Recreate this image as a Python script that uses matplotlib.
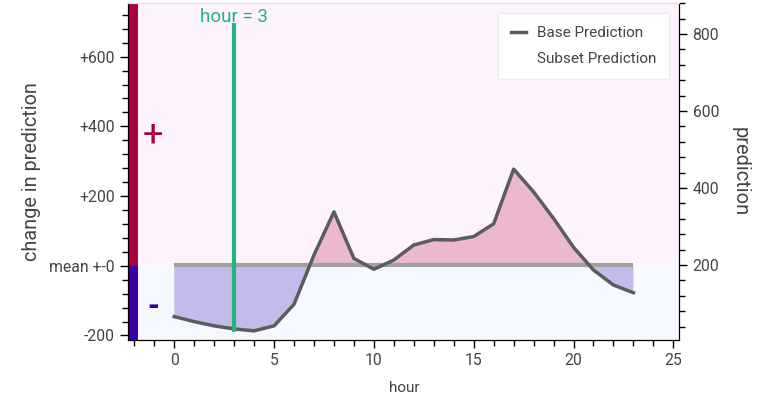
import matplotlib.pyplot as plt
from matplotlib.lines import Line2D
from matplotlib.patches import Rectangle
from matplotlib.ticker import MultipleLocator

plt.rcParams["font.family"] = ["Roboto", "DejaVu Sans"]

hours = list(range(24))
base_prediction = [66, 53, 42, 34, 29, 42, 98, 226, 338, 217, 189, 213,
                   252, 266, 265, 274, 307, 449, 390, 321, 246, 187, 148, 128]
mean_prediction = 200
selected_hour = 3

change_ticks = [-200, 0, 200, 400, 600]
change_labels = ["-200", "mean +-0", "+200", "+400", "+600"]
pred_ticks = [200, 400, 600, 800]

pos_bg = "#fdf3fc"
neg_bg = "#f5f8ff"
pos_fill = "#ebb8cd"
neg_fill = "#c4bbeb"
pos_bar = "#a8003c"
neg_bar = "#3a00a8"
line_color = "#5c5c5c"
green = "#1fb67f"
text_color = "#444444"

fig = plt.figure(figsize=(7.57, 3.95), dpi=100)
ax = fig.add_axes([0.1695, 0.1392, 0.7279, 0.8532])
ax2 = ax.twinx()

change_lo, change_hi = -213, 754
pred_lo, pred_hi = 5.2, 880.5
x_lo, x_hi = -2.3, 25.3

ax.set_xlim(x_lo, x_hi)
ax.set_ylim(change_lo, change_hi)
ax2.set_ylim(pred_lo, pred_hi)

# background split at the mean
ax.axhspan(0, change_hi, color=pos_bg, zorder=0, lw=0)
ax.axhspan(change_lo, 0, color=neg_bg, zorder=0, lw=0)
ax.add_patch(Rectangle((x_lo, 0), 0.5, change_hi, color=pos_bar, lw=0, zorder=2))
ax.add_patch(Rectangle((x_lo, change_lo), 0.5, -change_lo, color=neg_bar, lw=0, zorder=2))
ax.text(-1.05, 375, "+", color=pos_bar, fontsize=26, ha="center", va="center")
ax.text(-1.05, -118, "-", color=neg_bar, fontsize=22, ha="center", va="center", fontweight="bold")

# prediction curve vs mean
base_line = [mean_prediction] * len(hours)
ax2.fill_between(hours, base_line, base_prediction, where=[v >= mean_prediction for v in base_prediction],
                 interpolate=True, color=pos_fill, lw=0, zorder=1)
ax2.fill_between(hours, base_line, base_prediction, where=[v <= mean_prediction for v in base_prediction],
                 interpolate=True, color=neg_fill, lw=0, zorder=1)
ax2.plot(hours, base_line, color="#a0a0a0", lw=3, zorder=2, solid_capstyle="butt")
ax2.plot(hours, base_prediction, color=line_color, lw=2.5, zorder=3)

ax2.vlines(selected_hour, 26, 828, color=green, lw=3, zorder=4)
ax2.text(selected_hour, 845, f"hour = {selected_hour}", color=green, fontsize=13.5, ha="center", va="center")

handles = [Line2D([], [], color=line_color, lw=2.5), Line2D([], [], color="white", lw=2.5)]
leg = ax2.legend(handles, ["Base Prediction", "Subset Prediction"], loc="upper right",
                 bbox_to_anchor=(0.981, 0.970), borderaxespad=0, fancybox=False, framealpha=1,
                 edgecolor="#ececec", fontsize=11, handlelength=1.0, borderpad=0.85,
                 labelspacing=0.8, handletextpad=0.7)
for t in leg.get_texts():
    t.set_color(text_color)

ax.set_yticks(change_ticks)
ax.set_yticklabels(change_labels)
ax.yaxis.set_minor_locator(MultipleLocator(40))
ax2.set_yticks(pred_ticks)
ax2.yaxis.set_minor_locator(MultipleLocator(40))
ax.xaxis.set_major_locator(MultipleLocator(5))
ax.xaxis.set_minor_locator(MultipleLocator(1))

for a in (ax, ax2):
    a.tick_params(which="major", length=6, width=1, labelsize=11.3, labelcolor=text_color)
    a.tick_params(which="minor", length=4, width=1)

ax.set_xlabel("hour", fontsize=11, color=text_color, labelpad=9)
ax.set_ylabel("change in prediction", fontsize=14.3, color=text_color, labelpad=6)
ax2.set_ylabel("prediction", fontsize=14.5, color=text_color, rotation=270, labelpad=22)

for a in (ax, ax2):
    a.spines["top"].set_color("#e8dde6")
    a.spines["left"].set_color("black")
    a.spines["right"].set_color("black")
    a.spines["bottom"].set_color("black")

fig.savefig("out.png", dpi=100)
